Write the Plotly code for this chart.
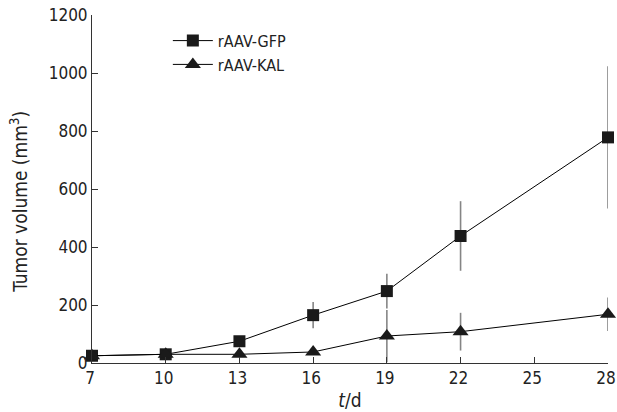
import plotly.graph_objects as go

days = [7, 10, 13, 16, 19, 22, 28]
gfp_mean = [25, 30, 75, 165, 248, 438, 778]
gfp_err = [8, 8, 12, 45, 60, 120, 245]
kal_mean = [25, 30, 30, 38, 93, 108, 168]
kal_err = [6, 8, 6, 10, 90, 65, 58]
x_ticks = [7, 10, 13, 16, 19, 22, 25, 28]
y_ticks = [0, 200, 400, 600, 800, 1000, 1200]

font = "DejaVu Sans Condensed, Liberation Sans, DejaVu Sans"
fig = go.Figure()
fig.add_trace(go.Scatter(
    x=days, y=gfp_mean, name="rAAV-GFP", mode="lines+markers", cliponaxis=False,
    line=dict(color="black", width=1),
    marker=dict(symbol="square", size=12, color="#1a1a1a"),
    error_y=dict(type="data", array=gfp_err, visible=True, color="#858585", thickness=1.6, width=0),
))
fig.add_trace(go.Scatter(
    x=days, y=kal_mean, name="rAAV-KAL", mode="lines+markers", cliponaxis=False,
    line=dict(color="black", width=1),
    marker=dict(symbol="triangle-up", size=14, color="#1a1a1a"),
    error_y=dict(type="data", array=kal_err, visible=True, color="#858585", thickness=1.6, width=0),
))
fig.update_layout(
    width=617, height=412,
    margin=dict(l=92, r=9, t=15, b=49),
    paper_bgcolor="white", plot_bgcolor="white",
    font=dict(family=font, size=17, color="#222"),
    showlegend=True,
    legend=dict(x=0.147, y=0.975, xanchor="left", yanchor="top",
                bgcolor="rgba(0,0,0,0)", font=dict(size=16), itemwidth=40),
    annotations=[dict(
        text="Tumor volume (mm<sup>3</sup>)", textangle=-90,
        xref="paper", yref="paper", x=-0.1415, y=0.463,
        xanchor="center", yanchor="middle", showarrow=False,
        font=dict(size=19, family=font, color="#222"),
    )],
)
fig.update_xaxes(
    range=[7, 28], tickvals=x_ticks, ticks="inside", ticklen=6, tickcolor="#333",
    showline=True, linecolor="#333", linewidth=1, showgrid=False, zeroline=False,
    automargin=False, ticklabeloverflow="allow", ticklabelshift=-2,
    title=dict(text="<i>t</i>/d", standoff=6, font=dict(size=19)),
)
fig.update_yaxes(
    range=[0, 1200], tickvals=y_ticks, ticks="inside", ticklen=6, tickcolor="#333",
    showline=True, linecolor="#333", linewidth=1, showgrid=False, zeroline=False,
    automargin=False, ticklabeloverflow="allow",
)
# remove the browser's default page margin so the figure fills the window exactly
fig.write_html("out.html", config={"displayModeBar": False},
               post_script="document.body.style.margin='0';document.body.style.overflow='hidden';")
